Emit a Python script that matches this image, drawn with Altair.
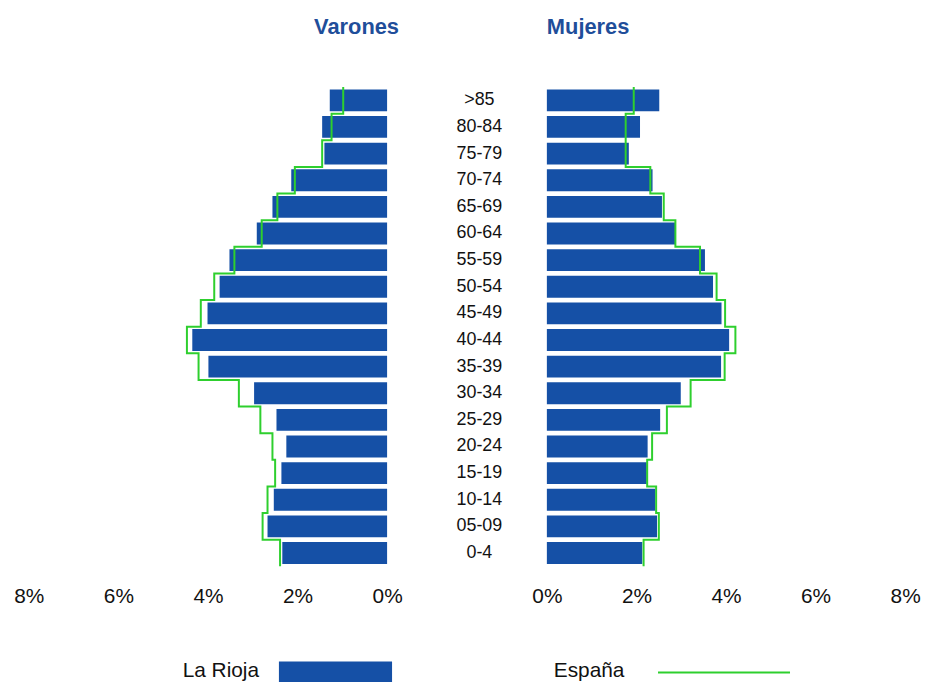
import altair as alt
import pandas as pd

ages = [">85", "80-84", "75-79", "70-74", "65-69", "60-64", "55-59", "50-54", "45-49",
        "40-44", "35-39", "30-34", "25-29", "20-24", "15-19", "10-14", "05-09", "0-4"]
rioja_men = [1.28, 1.45, 1.40, 2.14, 2.56, 2.91, 3.52, 3.74, 4.01,
             4.35, 3.99, 2.97, 2.47, 2.25, 2.36, 2.53, 2.67, 2.34]
spain_men = [0.98, 1.24, 1.45, 2.06, 2.45, 2.80, 3.41, 3.86, 4.16,
             4.47, 4.21, 3.31, 2.83, 2.56, 2.50, 2.67, 2.78, 2.39]
rioja_women = [2.51, 2.08, 1.83, 2.36, 2.57, 2.88, 3.53, 3.71, 3.90,
               4.07, 3.89, 2.99, 2.53, 2.25, 2.23, 2.42, 2.46, 2.13]
spain_women = [1.94, 1.76, 1.76, 2.31, 2.61, 2.87, 3.42, 3.79, 3.98,
               4.21, 3.97, 3.21, 2.68, 2.35, 2.24, 2.44, 2.50, 2.16]
tick_values = [0, 2, 4, 6, 8]

BLUE = "#1550A6"
GREEN = "#2ECF2E"
TITLE_BLUE = "#1F4E9A"
FONT = "Liberation Sans"

n = len(ages)
idx = [n - 1 - i for i in range(n)]


def bars_df(vals):
    return pd.DataFrame({"age": ages, "v": vals,
                         "lo": [k - 0.41 for k in idx], "hi": [k + 0.41 for k in idx]})


def step_df(vals):
    rows = []
    for i, v in enumerate(vals):
        rows.append({"v": v, "y": idx[i] + 0.5, "seq": 2 * i})
        rows.append({"v": v, "y": idx[i] - 0.5, "seq": 2 * i + 1})
    return pd.DataFrame(rows)


W, H, MID = 361, 483, 161
yscale = alt.Scale(domain=[-0.5, n - 0.5], nice=False, zero=False)


def panel(rioja, spain, reverse, title):
    xaxis = alt.Axis(values=tick_values, labelExpr="datum.value + '%'", title=None,
                     domain=False, ticks=False, grid=False, labelFontSize=21,
                     labelPadding=19, labelColor="#111111", labelFont=FONT,
                     labelFlush=False, labelOverlap=False)
    xs = alt.Scale(domain=[0, 8], reverse=reverse, nice=False)
    bars = alt.Chart(bars_df(rioja)).mark_rect(color=BLUE).encode(
        x=alt.X("v:Q", scale=xs, axis=xaxis),
        x2=alt.datum(0),
        y=alt.Y("lo:Q", scale=yscale, axis=None),
        y2="hi:Q",
    )
    line = alt.Chart(step_df(spain)).mark_line(color=GREEN, strokeWidth=2).encode(
        x=alt.X("v:Q", scale=xs, axis=xaxis),
        y=alt.Y("y:Q", scale=yscale, axis=None),
        order="seq:Q",
    )
    return alt.layer(bars, line, title=title).properties(width=W, height=H)


left_title = alt.TitleParams("Varones", anchor="end", frame="group", dx=12, fontSize=22,
                             fontWeight="bold", color=TITLE_BLUE, font=FONT, offset=44)
right_title = alt.TitleParams("Mujeres", anchor="start", frame="group", dx=0, fontSize=22,
                              fontWeight="bold", color=TITLE_BLUE, font=FONT, offset=44)

left = panel(rioja_men, spain_men, True, left_title)
right = panel(rioja_women, spain_women, False, right_title)

# legend pieces
leg_l_text = alt.Chart(pd.DataFrame({"t": ["La Rioja"]})).mark_text(
    align="right", baseline="middle", fontSize=21, font=FONT, color="#111111").encode(
    x=alt.value(232), y=alt.value(589), text="t:N")
leg_l_rect = alt.Chart(pd.DataFrame({"t": ["La Rioja"]})).mark_rect(color=BLUE).encode(
    x=alt.value(252), x2=alt.value(366), y=alt.value(579), y2=alt.value(605))
leg_r_text = alt.Chart(pd.DataFrame({"t": ["España"]})).mark_text(
    align="left", baseline="middle", fontSize=21, font=FONT, color="#111111").encode(
    x=alt.value(7), y=alt.value(589), text="t:N")
leg_r_line = alt.Chart(pd.DataFrame({"t": ["España"]})).mark_rule(color=GREEN, strokeWidth=2).encode(
    x=alt.value(112), x2=alt.value(245), y=alt.value(590))

left = alt.layer(left, leg_l_text, leg_l_rect).properties(width=W, height=H)
right = alt.layer(right, leg_r_text, leg_r_line).properties(width=W, height=H)

mid = alt.Chart(pd.DataFrame({"age": ages, "k": idx})).mark_text(
    align="center", baseline="middle", fontSize=18, font=FONT, color="#111111").encode(
    x=alt.value(93),
    y=alt.Y("k:Q", scale=yscale, axis=None),
    text="age:N",
).properties(width=MID, height=H)

chart = alt.hconcat(left, mid, right, spacing=0, bounds="flush").properties(
    padding={"left": 5, "top": 6, "right": 0, "bottom": 0}
).configure(font=FONT).configure_view(stroke="transparent", strokeWidth=0)

chart.save("out.html", embed_options={"renderer": "svg", "actions": False})
